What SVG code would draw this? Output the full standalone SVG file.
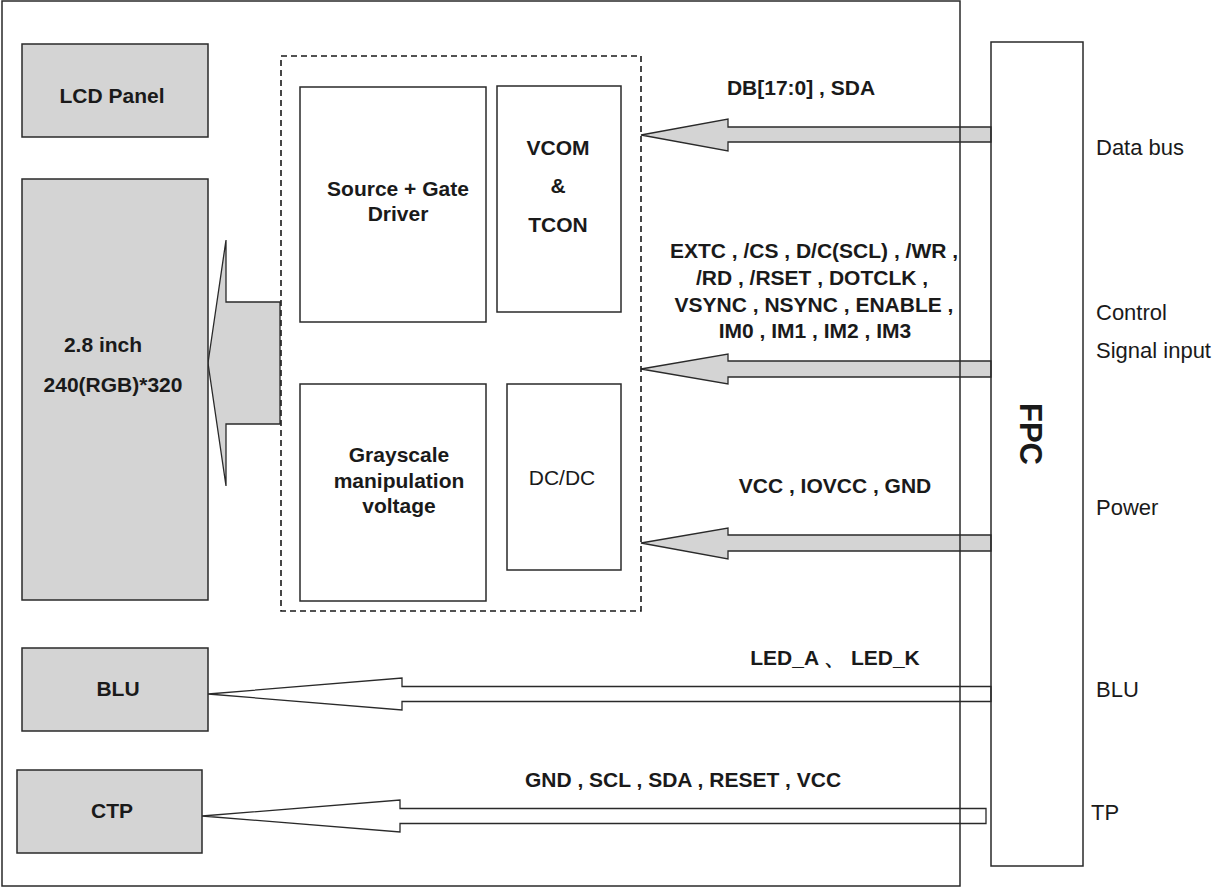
<svg xmlns="http://www.w3.org/2000/svg" width="1217" height="888" viewBox="0 0 1217 888">
<style>
.box{fill:#d4d4d4;stroke:#2a2a2a;stroke-width:1.5}
.wbox{fill:#ffffff;stroke:#2a2a2a;stroke-width:1.5}
.arrow{fill:#d4d4d4;stroke:#2a2a2a;stroke-width:1.3;stroke-linejoin:miter}
.warrow{fill:#ffffff;stroke:#2a2a2a;stroke-width:1.3}
.t{font-family:"Liberation Sans",Arial,sans-serif;font-size:21px;font-weight:bold;fill:#1a1a1a;text-anchor:middle}
.r{font-family:"Liberation Sans",Arial,sans-serif;font-size:22px;fill:#1a1a1a}
</style>
<rect width="1217" height="888" fill="#ffffff"/>

<g id="connectors">
  <path class="arrow" d="M208,363 L226,240 L226,302 L280,302 L280,424 L226,424 L226,486 Z"/>
  <path class="arrow" d="M641,135 L728,119 L728,127 L991,127 L991,142 L728,142 L728,151 Z"/>
  <path class="arrow" d="M641,369 L728,354 L728,361 L991,361 L991,377 L728,377 L728,384 Z"/>
  <path class="arrow" d="M641,543 L728,528 L728,535 L991,535 L991,551 L728,551 L728,559 Z"/>
  <path class="warrow" d="M208,694 L402,678 L402,686.5 L991,686.5 L991,701.5 L402,701.5 L402,710 Z"/>
  <path class="warrow" d="M202,816 L400,800 L400,808.5 L986,808.5 L986,823.5 L400,823.5 L400,832 Z"/>
  <text class="t" x="801" y="95">DB[17:0] , SDA</text>
  <text class="t" x="814" y="258">EXTC , /CS , D/C(SCL) , /WR ,</text>
  <text class="t" x="812" y="285">/RD , /RSET , DOTCLK ,</text>
  <text class="t" x="814" y="312">VSYNC , NSYNC , ENABLE ,</text>
  <text class="t" x="815" y="338">IM0 , IM1 , IM2 , IM3</text>
  <text class="t" x="835" y="493">VCC , IOVCC , GND</text>
  <text class="t" x="835" y="665">LED_A 、 LED_K</text>
  <text class="t" x="683" y="787">GND , SCL , SDA , RESET , VCC</text>
</g>

<g id="outer">
  <rect x="2" y="1" width="958" height="885" fill="none" stroke="#2a2a2a" stroke-width="1.5"/>
</g>

<g id="lcd-panel">
  <rect class="box" x="22" y="44" width="186" height="93"/>
  <text class="t" x="112" y="103">LCD Panel</text>
</g>

<g id="lcd-screen">
  <rect class="box" x="22" y="179" width="186" height="421"/>
  <text class="t" x="103" y="352">2.8 inch</text>
  <text class="t" x="113" y="392">240(RGB)*320</text>
</g>

<g id="driver-ic">
  <rect x="281" y="56" width="360" height="555" fill="none" stroke="#1a1a1a" stroke-width="1.6" stroke-dasharray="6,4"/>
</g>

<g id="source-gate">
  <rect class="wbox" x="300" y="87" width="186" height="235"/>
  <text class="t" x="398" y="196">Source + Gate</text>
  <text class="t" x="398" y="221">Driver</text>
</g>

<g id="vcom-tcon">
  <rect class="wbox" x="497" y="86" width="124" height="226"/>
  <text class="t" x="558" y="155">VCOM</text>
  <text class="t" x="558" y="193">&amp;</text>
  <text class="t" x="558" y="232">TCON</text>
</g>

<g id="grayscale">
  <rect class="wbox" x="300" y="384" width="186" height="217"/>
  <text class="t" x="399" y="462">Grayscale</text>
  <text class="t" x="399" y="488">manipulation</text>
  <text class="t" x="399" y="513">voltage</text>
</g>

<g id="dcdc">
  <rect class="wbox" x="507" y="384" width="114" height="186"/>
  <text class="t" x="562" y="485" style="font-weight:normal">DC/DC</text>
</g>

<g id="blu">
  <rect class="box" x="22" y="648" width="186" height="83"/>
  <text class="t" x="118" y="696">BLU</text>
</g>

<g id="ctp">
  <rect class="box" x="17" y="770" width="185" height="83"/>
  <text class="t" x="112" y="818">CTP</text>
</g>

<g id="fpc">
  <rect x="991" y="42" width="92" height="824" fill="none" stroke="#2a2a2a" stroke-width="1.5"/>
  <text class="t" x="1031" y="434" transform="rotate(90 1031 434)" dy="11" style="font-size:31px">FPC</text>
</g>

<g id="right-labels">
  <text class="r" x="1096" y="155">Data bus</text>
  <text class="r" x="1096" y="320">Control</text>
  <text class="r" x="1096" y="358">Signal input</text>
  <text class="r" x="1096" y="515">Power</text>
  <text class="r" x="1096" y="697">BLU</text>
  <text class="r" x="1091" y="820">TP</text>
</g>
</svg>
